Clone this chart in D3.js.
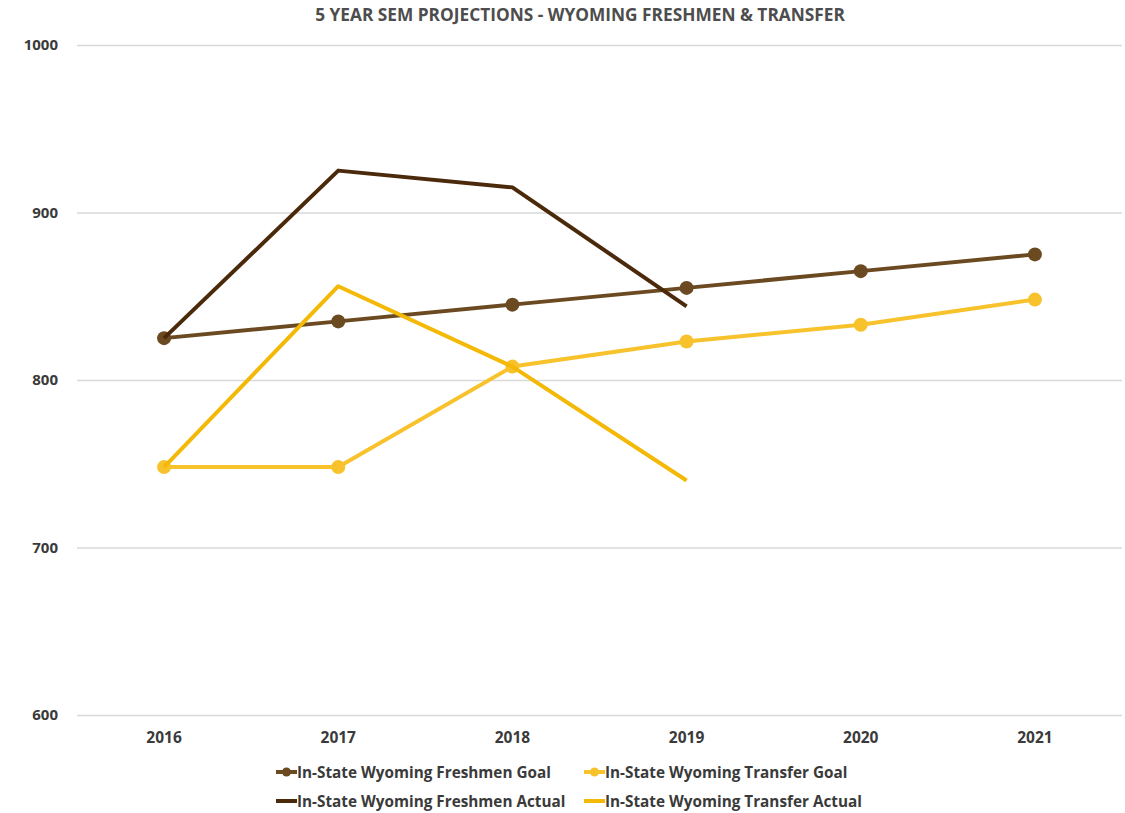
<!DOCTYPE html>
<html>
<head>
<meta charset="utf-8">
<script src="https://cdn.jsdelivr.net/npm/d3@7"></script>
<style>
  body { margin: 0; background: #fff; }
  text { font-family: "Open Sans", "Liberation Sans", sans-serif; }
</style>
</head>
<body>
<div id="chart"></div>
<script>
// chart data
const years = ["2016", "2017", "2018", "2019", "2020", "2021"];
const freshmenGoal = [825, 835, 845, 855, 865, 875];
const transferGoal = [748, 748, 808, 823, 833, 848];
const freshmenActual = [825, 925, 915, 844];
const transferActual = [748, 856, 808, 740];
const yTicks = [600, 700, 800, 900, 1000];

const series = [
  { name: "In-State Wyoming Freshmen Goal", values: freshmenGoal, color: "#6b4a22", dots: true },
  { name: "In-State Wyoming Transfer Goal", values: transferGoal, color: "#f7c22b", dots: true },
  { name: "In-State Wyoming Freshmen Actual", values: freshmenActual, color: "#4b2a0c", dots: false },
  { name: "In-State Wyoming Transfer Actual", values: transferActual, color: "#f4b907", dots: false }
];

const w = 1125, h = 813;
const plotLeft = 77, plotRight = 1122, plotTop = 45, plotBottom = 715;

const svg = d3.select("#chart").append("svg")
  .attr("width", w)
  .attr("height", h);

const xScale = d3.scaleBand().domain(years).range([plotLeft, plotRight]);
const yScale = d3.scaleLinear().domain([600, 1000]).range([plotBottom, plotTop]);

// title
svg.append("text")
  .attr("x", 580)
  .attr("y", 21)
  .attr("text-anchor", "middle")
  .attr("font-size", 17.3)
  .attr("font-weight", 700)
  .attr("fill", "#4d4d4d")
  .text("5 YEAR SEM PROJECTIONS - WYOMING FRESHMEN & TRANSFER");

// gridlines + y labels
const yAxis = d3.axisLeft(yScale)
  .tickValues(yTicks)
  .tickFormat(d3.format("d"))
  .tickSize(-(plotRight - plotLeft))
  .tickPadding(19);
const gy = svg.append("g").attr("transform", `translate(${plotLeft},0)`).call(yAxis);
gy.select(".domain").remove();
gy.selectAll(".tick line").attr("stroke", "#d9d9d9").attr("stroke-width", 1.5);
gy.selectAll(".tick text")
  .attr("font-size", 15).attr("font-weight", 700).attr("fill", "#3a3a3a")
  .attr("font-family", "'Open Sans', sans-serif");

// x labels
const xAxis = d3.axisBottom(xScale).tickSize(0).tickPadding(17);
const gx = svg.append("g").attr("transform", `translate(0,${plotBottom})`).call(xAxis);
gx.select(".domain").remove();
gx.selectAll(".tick text")
  .attr("font-size", 15.5).attr("font-weight", 700).attr("fill", "#3a3a3a")
  .attr("font-family", "'Open Sans', sans-serif");

const cx = (i) => xScale(years[i]) + xScale.bandwidth() / 2;
const line = d3.line().x((d, i) => cx(i)).y((d) => yScale(d));

// goal lines first, then actual lines
const drawOrder = [series[0], series[1], series[3], series[2]];
drawOrder.forEach((s) => {
  svg.append("path")
    .datum(s.values)
    .attr("fill", "none")
    .attr("stroke", s.color)
    .attr("stroke-width", 4)
    .attr("stroke-linejoin", "round")
    .attr("d", line);
  if (s.dots) {
    svg.selectAll(null)
      .data(s.values)
      .enter()
      .append("circle")
      .attr("cx", (d, i) => cx(i))
      .attr("cy", (d) => yScale(d))
      .attr("r", 7)
      .attr("fill", s.color);
  }
});

// legend
const legendPos = [
  { x: 276, y: 772 },
  { x: 584, y: 772 },
  { x: 276, y: 801 },
  { x: 584, y: 801 }
];
series.forEach((s, i) => {
  const g = svg.append("g").attr("transform", `translate(${legendPos[i].x},${legendPos[i].y})`);
  g.append("line")
    .attr("x1", 0).attr("x2", 21)
    .attr("stroke", s.color).attr("stroke-width", 4);
  if (s.dots) g.append("circle").attr("cx", 10.5).attr("r", 4.5).attr("fill", s.color);
  g.append("text")
    .attr("x", 21)
    .attr("y", 5.5)
    .attr("font-size", 15.3)
    .attr("font-weight", 700)
    .attr("fill", "#3a3a3a")
    .text(s.name);
});
</script>
</body>
</html>
